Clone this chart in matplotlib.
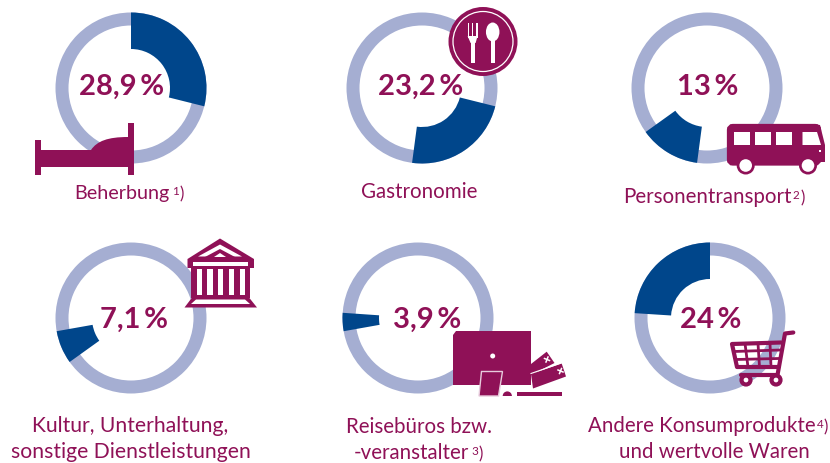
import numpy as np
import matplotlib
matplotlib.use('Agg')
import matplotlib.pyplot as plt
from matplotlib.patches import Circle, Ellipse, Polygon, Rectangle, Wedge, FancyBboxPatch, PathPatch
from matplotlib.path import Path

plt.rcParams['font.family'] = ['Lato', 'DejaVu Sans']

W, H = 830, 463
PURPLE = '#8F1157'
BLUE = '#00468B'
LIGHT = '#A5AED2'

# shares in percent, each slice starts where the previous one ended
shares = [28.9, 23.2, 13, 7.1, 3.9, 24]
value_labels = ['28,9\u2009%', '23,2\u2009%', '13\u2009%', '7,1\u2009%', '3,9\u2009%', '24\u2009%']
labels = [['Beherbung'], ['Gastronomie'], ['Personentransport'],
          ['Kultur, Unterhaltung,', 'sonstige Dienstleistungen'],
          ['Reisebüros bzw.', '-veranstalter'],
          ['Andere Konsumprodukte', 'und wertvolle Waren']]

centers = [(131, 88), (422, 88), (707, 88), (131, 318), (418, 318), (710, 318)]
R = 75.5
starts = np.concatenate([[0], np.cumsum(shares)[:-1]])

fig = plt.figure(figsize=(W / 100, H / 100), dpi=100)

for (cx, cy), s, v in zip(centers, starts, shares):
    a = fig.add_axes([(cx - R) / W, 1 - (cy + R) / H, 2 * R / W, 2 * R / H])
    a.pie([1], colors=[LIGHT], radius=1, wedgeprops=dict(width=13 / R))
    rest = max(100 - s - v, 0)
    a.pie([s, v, rest], colors=['none', BLUE, 'none'], radius=1, startangle=90,
          counterclock=False, wedgeprops=dict(width=36.5 / R))
    a.set_xlim(-1, 1)
    a.set_ylim(-1, 1)

# overlay in picture pixels for texts and icons
ax = fig.add_axes([0, 0, 1, 1], zorder=5)
ax.set_xlim(0, W)
ax.set_ylim(H, 0)
ax.axis('off')


def poly(pts, fc=PURPLE, **kw):
    ax.add_patch(Polygon(pts, closed=True, fc=fc, ec='none', **kw))


def rect(x0, y0, x1, y1, fc=PURPLE):
    ax.add_patch(Rectangle((x0, y0), x1 - x0, y1 - y0, fc=fc, ec='none'))


def bed():
    rect(35, 140, 41, 175)
    rect(128, 123, 134, 175)
    rect(41, 150, 128, 167)
    verts = [(91, 150), (97, 141), (108, 137), (128, 137), (128, 150), (91, 150)]
    codes = [Path.MOVETO, Path.CURVE4, Path.CURVE4, Path.CURVE4, Path.LINETO, Path.CLOSEPOLY]
    ax.add_patch(PathPatch(Path(verts, codes), fc=PURPLE, ec='none'))


def cutlery():
    ax.add_patch(Circle((483, 41.5), 34.5, fc=PURPLE, ec='none'))
    ax.add_patch(Circle((483, 41.5), 30, fc='none', ec='white', lw=0.9))
    # fork
    rect(471.3, 38, 475.3, 62.5, 'white')
    for x in (468, 472.2, 476.4):
        rect(x - 0.4, 23, x + 1.2, 38, 'white')
    poly([(467.6, 36), (477.6, 36), (475.6, 43), (470.6, 43)], 'white')
    # spoon
    ax.add_patch(Ellipse((492.7, 32), 13.5, 19, fc='white', ec='none'))
    rect(490.5, 36, 495, 62.5, 'white')


def bus():
    ax.add_patch(FancyBboxPatch((730, 127), 88, 35.5, boxstyle='round,pad=0,rounding_size=3',
                                fc=PURPLE, ec=PURPLE, lw=4.5))
    poly([(815, 124.5), (820, 125), (825, 145), (825, 162), (815, 162)])
    for x0, x1 in [(734, 750), (755, 770.5), (775.7, 791.5)]:
        rect(x0, 132, x1, 145, 'white')
    poly([(802.5, 132), (817, 132), (821, 145), (802.5, 145)], 'white')
    rect(818.5, 150, 821, 152, 'white')
    for x in (745.7, 808):
        ax.add_patch(Circle((x, 165.5), 9, fc=PURPLE, ec='none'))
        ax.add_patch(Circle((x, 165.5), 6.3, fc='white', ec='none'))


def building():
    poly([(220, 238.5), (254, 259), (254, 268), (187.5, 268), (187.5, 259)])
    poly([(220, 244.5), (242, 256.5), (198, 256.5)], 'white')
    poly([(220, 249), (235, 257), (205, 257)])
    poly([(220, 253), (226, 257), (214, 257)], 'white')
    rect(193, 262, 248, 265.5, 'white')
    rect(191, 268, 250, 298)
    for x0, x1 in [(196.5, 201.7), (207, 212.5), (218, 223), (228.7, 234), (239.7, 245)]:
        rect(x0, 269, x1, 295, 'white')
    poly([(194, 295), (247, 295), (257, 307.5), (184.5, 307.5)])
    poly([(196, 299.5), (245, 299.5), (250, 304), (191, 304)], 'white')


def office():
    poly([(456, 331), (531, 331), (531, 385), (453, 385), (453, 335)])
    ax.add_patch(Circle((492.7, 356), 2.5, fc='white', ec='none'))
    ax.add_patch(Polygon([(481.5, 371.5), (502.5, 371.5), (498.5, 396), (479, 396)], closed=True,
                         fc=PURPLE, ec='#E7CBDC', lw=1))
    ax.add_patch(Wedge((507.3, 396), 4.6, 180, 360, fc=PURPLE, ec='none'))
    rect(516.7, 391.5, 562, 396)
    # tickets
    poly([(531, 364), (546.7, 351.7), (554.5, 363), (531, 375)])
    poly([(531, 374), (561.7, 363.5), (566, 376.5), (533, 388.5)])
    ax.plot([531, 561], [373.5, 363], color='white', lw=0.8)
    for x, y in [(547, 359.5), (560.5, 371)]:
        ax.plot([x - 2.5, x + 2.5], [y - 1, y + 1], color='white', lw=1.1)
        ax.plot([x - 1, x + 1], [y + 2.5, y - 2.5], color='white', lw=1.1)


def cart():
    kw = dict(color=PURPLE, lw=3, solid_capstyle='round', solid_joinstyle='round')
    ax.plot([793.3, 785, 777.5, 741], [332.5, 333.5, 375, 375], **kw)
    ax.plot([781, 732, 737, 778.5], [342.5, 344, 367, 367], **kw)
    thin = dict(color=PURPLE, lw=2)
    ax.plot([734, 780], [351.5, 350], **thin)
    ax.plot([735.5, 779], [359.5, 358.5], **thin)
    for x0, x1 in [(745, 748), (758, 759.5), (770, 771)]:
        ax.plot([x0, x1], [343.5, 367], **thin)
    for x in (746, 776):
        ax.add_patch(Circle((x, 380), 4.5, fc='white', ec=PURPLE, lw=3))


bed()
cutlery()
bus()
building()
office()
cart()

# big values
value_pos = [(122, 95), (420.5, 95), (708, 95), (133.7, 328), (427, 328), (710.5, 328)]
for (x, y), t in zip(value_pos, value_labels):
    ax.text(x, y, t, color=PURPLE, fontsize=21, fontweight='bold', ha='center', va='baseline')

# category labels, one entry per text line
label_pos = [[(74, 199, 'left')], [(360.7, 198, 'left')], [(622.7, 203, 'left')],
             [(130.5, 432, 'center'), (131, 458, 'center')],
             [(345.7, 433, 'left'), (354, 459, 'left')],
             [(588, 432, 'left'), (714, 458, 'center')]]
label_sizes = [14.2, 14.8, 14.8, 15.2, 14.8, 14.8]
for lines, poss, fs in zip(labels, label_pos, label_sizes):
    for t, (x, y, ha) in zip(lines, poss):
        ax.text(x, y, t, color=PURPLE, fontsize=fs, ha=ha, va='baseline')

# footnote marks
notes = ['1', '2', '3', '4']
note_pos = [(172, 197), (792.7, 201), (471.7, 457), (816.5, 430)]
paren_pos = [(179, 199), (800, 203), (478, 459), (823, 432)]
for n, (x, y), (px, py) in zip(notes, note_pos, paren_pos):
    ax.text(x, y - 2, n, color=PURPLE, fontsize=8.5, ha='left', va='baseline')
    ax.text(px, py, ')', color=PURPLE, fontsize=12, ha='left', va='baseline')

fig.savefig('out.png', dpi=100, facecolor='white')
